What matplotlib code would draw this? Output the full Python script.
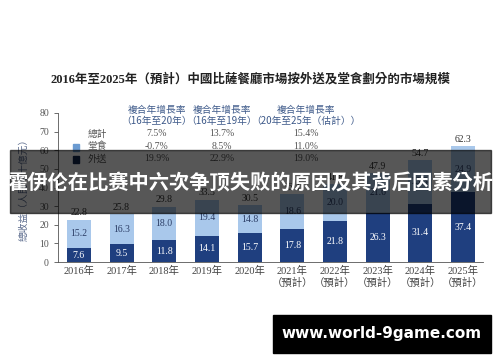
import matplotlib
matplotlib.use("Agg")
import matplotlib.pyplot as plt
from matplotlib.patches import Rectangle

years = ["2016年", "2017年", "2018年", "2019年", "2020年",
         "2021年\n（預計）", "2022年\n（預計）", "2023年\n（預計）",
         "2024年\n（預計）", "2025年\n（預計）"]
delivery = [7.6, 9.5, 11.8, 14.1, 15.7, 17.8, 21.8, 26.3, 31.4, 37.4]
dine_in = [15.2, 16.3, 18.0, 19.4, 14.8, 18.6, 20.0, 21.6, 23.3, 24.9]
totals = [22.8, 25.8, 29.8, 33.5, 30.5, 36.4, 41.8, 47.9, 54.7, 62.3]

cagr_head = ["複合年增長率\n（16年至20年）", "複合年增長率\n（16年至19年）", "複合年增長率\n（20年至25年（估計））"]
cagr_rows = ["總計", "堂食", "外送"]
cagr_vals = [["7.5%", "13.7%", "15.4%"],
             ["-0.7%", "8.5%", "11.0%"],
             ["19.9%", "22.9%", "19.0%"]]

dark = "#1f3f7f"
light = "#a9c8eb"
label_col = "#5a6a8c"
serif = ["Liberation Serif", "Noto Sans CJK TC"]
cjk = ["Noto Sans CJK TC", "DejaVu Sans"]

fig = plt.figure(figsize=(5, 3.62), dpi=100)
ax = fig.add_axes([0.116, 0.276, 0.85, 0.412])

x = range(len(years))
ax.bar(x, delivery, width=0.56, color=dark)
ax.bar(x, dine_in, width=0.56, bottom=delivery, color=light)

for i in x:
    ax.text(i, delivery[i] / 2, f"{delivery[i]}", ha="center", va="center",
            color="white", fontsize=7, family=serif)
    ax.text(i, delivery[i] + dine_in[i] / 2, f"{dine_in[i]}", ha="center", va="center",
            color="#2c3e66", fontsize=7, family=serif)
    ax.text(i, totals[i] + 1.2, f"{totals[i]}", ha="center", va="bottom",
            color="#333333", fontsize=7, family=serif)

ax.set_xlim(-0.49, 9.47)
ax.set_ylim(0, 80)
ax.set_yticks(range(0, 81, 10))
ax.set_xticks(list(x))
ax.set_xticklabels(years, family=serif, fontsize=7.5, color="#444444", linespacing=1.15)
ax.tick_params(axis="x", length=0, pad=3)
ax.tick_params(axis="y", length=3, width=0.6, colors="#555555", labelsize=7)
for lab in ax.get_yticklabels():
    lab.set_family(serif)
for s in ["top", "right"]:
    ax.spines[s].set_visible(False)
for s in ["left", "bottom"]:
    ax.spines[s].set_color("#555555")
    ax.spines[s].set_linewidth(0.6)
ax.set_ylabel("總收益（人民幣十億元）", family=cjk, fontsize=7, color=label_col, labelpad=8)

fig.text(0.5, 0.78, "2016年至2025年（預計）中國比薩餐廳市場按外送及堂食劃分的市場規模",
         ha="center", va="center", fontsize=9, fontweight="bold", family=serif, color="#222222")

# CAGR table
col_x = [0.314, 0.444, 0.612]
for cx, head in zip(col_x, cagr_head):
    fig.text(cx, 0.682, head, ha="center", va="center", fontsize=7, color="#3e5a8a",
             family=cjk, linespacing=1.1)
row_y = [0.630, 0.595, 0.561]
sq_col = [None, "#6b9bd1", "#12264d"]
for ry, name, vals, sc in zip(row_y, cagr_rows, cagr_vals, sq_col):
    fig.text(0.195, ry, name, ha="center", va="center", fontsize=7, color="#555555", family=cjk)
    if sc:
        fig.patches.append(Rectangle((0.146, ry - 0.011), 0.012, 0.018,
                                     transform=fig.transFigure, color=sc))
    for cx, v in zip(col_x, vals):
        fig.text(cx, ry, v, ha="center", va="center", fontsize=7, color="#555555", family=serif)

# overlay banner
fig.patches.append(Rectangle((0.02, 0.412), 0.962, 0.174, transform=fig.transFigure,
                             color="black", alpha=0.66, zorder=5))
fig.text(0.5, 0.495, "霍伊伦在比赛中六次争顶失败的原因及其背后因素分析", ha="center", va="center",
         fontsize=14.6, fontweight="bold", color="white", family=cjk, zorder=6)

# watermark box
fig.patches.append(Rectangle((0.546, 0.025), 0.436, 0.105, transform=fig.transFigure,
                             color="black", zorder=5))
fig.text(0.764, 0.078, "www.world-9game.com", ha="center", va="center", fontsize=11,
         fontweight="bold", color="white", family=["DejaVu Sans"], zorder=6)

fig.savefig("out.png", dpi=100)
